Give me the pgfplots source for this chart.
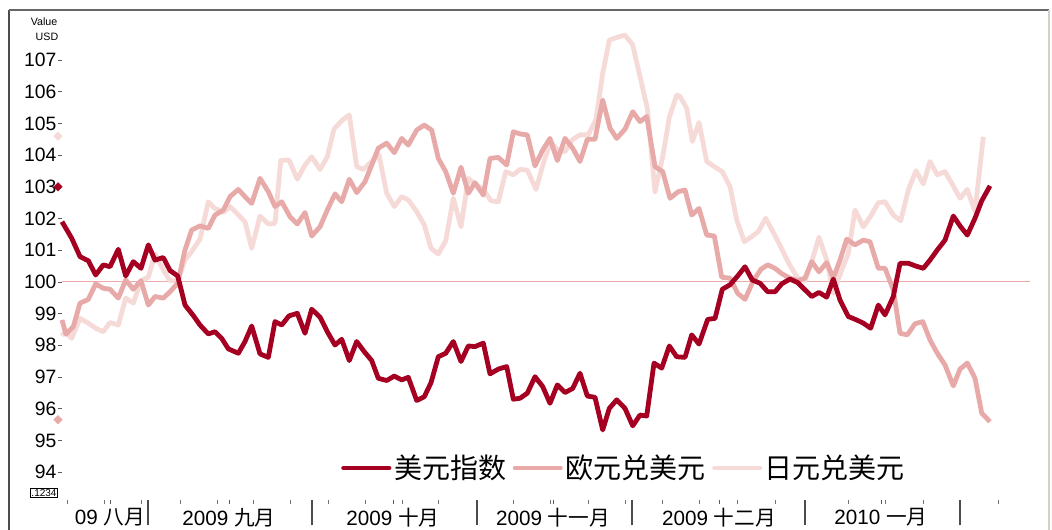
\documentclass[border=0pt]{standalone}
\usepackage{fontspec}
\setmainfont{Liberation Sans}
\newfontfamily\cjk{Noto Sans CJK SC}
\usepackage{pgfplots}
\pgfplotsset{compat=1.18}
\definecolor{usd}{RGB}{165,0,33}
\definecolor{eur}{RGB}{232,170,168}
\definecolor{jpy}{RGB}{246,218,216}
\definecolor{hline}{RGB}{238,170,170}
\definecolor{frameR}{RGB}{212,208,200}

\begin{document}
\begin{tikzpicture}
\begin{scope}[x=0.75pt,y=0.75pt]
\path[use as bounding box] (0,0) rectangle (1052,530);
\draw[line width=1.6pt, black!70] (9,0) -- (9,520);
\draw[line width=0.8pt, black!60] (9,520) -- (1049,520);
\draw[line width=1.6pt, frameR] (1049,520) -- (1049,0);
\node[font=\fontsize{8}{9}\selectfont] at (44,508) {Value};
\node[font=\fontsize{8}{9}\selectfont] at (47,493) {USD};
\node[draw, inner sep=0.8pt, font=\fontsize{7.5}{8}\selectfont] at (44,37) {.1234};
\end{scope}
\begin{axis}[
  at={(46.5pt,22.5pt)}, anchor=south west,
  scale only axis, width=726pt, height=352.5pt,
  xmin=62, xmax=1030, ymin=93.12, ymax=107.95,
  clip=false,
  axis lines*=left,
  axis line style={draw=none},
  tick align=outside,
  major tick length=3pt,
  tick style={black!65, line width=0.6pt},
  ytick={94,95,...,107},
  /pgf/number format/assume math mode=true,
  yticklabel style={font=\fontsize{14.5}{16}\selectfont, inner sep=1pt, anchor=east},
  xtick={110,229,393,553,719,881},
  xticklabels={09 {\cjk 八月}, 2009 {\cjk 九月}, 2009 {\cjk 十月}, 2009 {\cjk 十一月}, 2009 {\cjk 十二月}, 2010 {\cjk 一月}},
  xticklabel style={font=\fontsize{15.5}{17}\selectfont, anchor=north, inner sep=0pt, yshift=-3pt},
  minor xtick={148,312,477,632,805,960},
  minor tick length=19pt,
  minor tick style={black!70, line width=1.1pt},
  extra x ticks={67,104,141,180,217,253,290,328,365,402,438,513,550,588,625,662,699,737,775,848,885,923,998},
  extra x tick labels={},
  extra x tick style={tick style={black!55, line width=0.6pt}},
  legend style={at={(0.2882,0.068)}, anchor=west, draw=none, fill=none, inner sep=0pt,
    font=\cjk\fontsize{21}{24}\selectfont, legend columns=3,
    /tikz/every even column/.append style={column sep=3pt}},
  legend image code/.code={\draw[#1, line cap=round] (0pt,0pt) -- (34pt,0pt);},
  every axis plot/.append style={line width=3.6pt, line join=round},
]
\addlegendimage{usd}\addlegendentry{美元指数}
\addlegendimage{eur}\addlegendentry{欧元兑美元}
\addlegendimage{jpy}\addlegendentry{日元兑美元}

\addplot[color=hline, line width=0.8pt, forget plot] coordinates {(62,100) (1030,100)};

\addplot[jpy, forget plot] coordinates {
(62,98.3)(65,98.43)(71.7,98.22)(80,98.85)(88.3,98.7)(95.7,98.54)(103.3,98.43)(110,98.72)(118.3,98.64)(125.7,99.49)
(133.3,99.33)(141,100.04)(148.3,100.15)(155,100.88)(163.3,100.38)(170,100.04)(177.7,100.04)(185,100.69)(191.7,100.96)(200,101.35)
(208.3,102.53)(215,102.32)(223.3,102.19)(230,102.38)(236.7,102.17)(245,101.9)(251.7,101.06)(260,102.08)(268.3,101.83)(275,101.85)
(280.7,103.83)(289,103.85)(297.3,103.24)(305,103.69)(311.7,103.95)(320,103.55)(327.3,103.95)(334,104.82)(341.7,105.09)(349.3,105.27)
(356.7,103.64)(363.3,103.55)(371.7,103.8)(379,104.01)(386.7,102.8)(394.3,102.38)(401.7,102.69)(408.3,102.59)(416.7,102.22)(424.3,101.8)
(431,101.06)(438.3,100.88)(445.7,101.3)(453.3,102.64)(461,101.74)(468.3,103.27)(475,103.09)(483.3,102.92)(491,102.56)(498.3,102.53)
(505.7,103.48)(513.3,103.38)(520,103.55)(527.3,103.53)(536,102.92)(543.3,103.74)(550.7,104.43)(557.3,104.16)(565,104.11)(572.7,104.5)
(580,104.64)(588.3,104.64)(596,105.13)(602.7,106.58)(609.3,107.63)(617.3,107.72)(625,107.79)(632.7,107.48)(640,106.48)(647.3,105.48)
(655,102.85)(662.7,103.95)(669.3,105.19)(676.7,105.9)(680,105.85)(686.7,105.48)(692.3,104.43)(699,105.03)(706.7,103.8)(714.3,103.64)
(722.3,103.48)(730,103.01)(736.7,101.96)(744.3,101.27)(751.7,101.43)(758.3,101.59)(765.7,102.01)(773.3,101.56)(781,101.09)(789,100.57)
(797.7,100.12)(805,100.04)(811.7,100.64)(819,101.41)(826.7,100.69)(833.3,99.64)(841.7,100.38)(848.3,100.9)(855,102.27)(863.3,101.74)
(870.7,102.08)(878.3,102.5)(885,102.53)(893.3,102.11)(900.7,101.93)(908.3,102.9)(916,103.51)(923.3,103.09)(930,103.8)(937.3,103.38)
(945,103.48)(952.7,103.06)(960,102.64)(967.3,102.92)(975,102.22)(983.3,104.58)
};

\addplot[eur, forget plot] coordinates {
(62,98.8)(66,98.35)(73.3,98.59)(80,99.33)(88.3,99.45)(95.7,99.94)(103.3,99.8)(110,99.77)(118.3,99.49)(125.7,100.06)
(133.3,99.77)(141,100.04)(148.3,99.27)(155,99.54)(163.3,99.49)(170,99.69)(177.7,99.96)(185,101.01)(191.7,101.64)(200,101.77)
(208.3,101.69)(215,102.11)(223.3,102.27)(230,102.69)(238.3,102.92)(245,102.69)(251.7,102.48)(260,103.27)(268.3,102.85)(275,102.38)
(281.7,102.53)(290,102.06)(297.3,101.83)(305,102.19)(311.7,101.45)(320,101.74)(327.3,102.27)(335,102.78)(341.7,102.53)(349.3,103.24)
(356.7,102.82)(365,103.16)(371.7,103.69)(378.3,104.22)(386.7,104.38)(394.3,104.08)(401.7,104.53)(408.3,104.32)(416.7,104.79)(424.3,104.95)
(431.7,104.79)(438.3,103.9)(445.7,103.48)(453.3,102.8)(461,103.62)(468.3,102.8)(475,103.13)(483.3,102.74)(490,103.9)(498.3,103.93)
(506.7,103.69)(513.3,104.74)(520,104.67)(527.3,104.64)(535,103.66)(542.7,104.16)(550,104.53)(557.3,103.83)(565,104.53)(572.7,104.22)
(580,103.8)(587.3,104.5)(595,104.5)(602.7,105.74)(610,104.85)(616.7,104.53)(625,104.82)(632.7,105.37)(640,105.06)(646.7,105.22)
(655,103.64)(662.7,103.48)(670,102.64)(678.3,102.85)(685,102.9)(691.7,102.11)(699,102.32)(706.7,101.48)(714.3,101.45)(721.7,100.15)
(730,100.12)(737.7,99.64)(745,99.45)(753.3,100.04)(761,100.4)(767.7,100.54)(775,100.43)(782.3,100.25)(790,100.12)(797.7,100.04)
(805,100.12)(811.7,100.64)(819,100.32)(826.7,100.61)(833.3,100.12)(840,100.69)(846.7,101.35)(855,101.17)(863.3,101.32)(870,101.27)
(878.3,100.43)(885,100.43)(893.3,99.75)(900,98.38)(907.3,98.33)(915,98.68)(922.7,98.75)(930,98.17)(937.3,97.75)(945,97.38)
(953.3,96.72)(960,97.25)(967.3,97.44)(975,96.96)(981.7,95.86)(990,95.59)
};

\addplot[usd, forget plot] coordinates {
(62,101.9)(71.7,101.38)(80,100.8)(88.3,100.67)(95.7,100.22)(103.3,100.54)(110,100.48)(118.3,101.03)(125.7,100.19)(133.3,100.64)
(141,100.43)(148.3,101.17)(155,100.69)(163.3,100.77)(170,100.36)(177.7,100.19)(185,99.27)(193.3,98.94)(200,98.64)(208.3,98.36)
(215,98.43)(221.7,98.22)(228.3,97.89)(238.3,97.75)(245,98.12)(251.7,98.61)(260,97.73)(268.3,97.62)(275,98.75)(281.7,98.64)
(289,98.93)(297.3,99.01)(305,98.38)(311.7,99.14)(320,98.89)(327.3,98.43)(335,98.01)(341.7,98.19)(349.3,97.52)(356.7,98.12)
(365,97.77)(371.7,97.52)(378.3,96.96)(386.7,96.89)(394.3,97.03)(401.7,96.91)(408.3,96.99)(416.7,96.26)(424.3,96.38)(431,96.82)
(438.3,97.64)(445.7,97.75)(453.3,98.12)(461,97.49)(468.3,97.98)(475,97.96)(483.3,98.07)(490,97.1)(498.3,97.25)(506.7,97.33)
(513.3,96.3)(520,96.33)(527.3,96.49)(535,97.01)(542.7,96.7)(550,96.17)(557.3,96.75)(565,96.51)(572.7,96.64)(580,97.12)
(587.3,96.4)(595,96.36)(602.7,95.33)(609.3,96.01)(616.7,96.28)(625,96.01)(632.7,95.46)(640,95.8)(646.7,95.77)(654,97.44)
(661.7,97.28)(669.3,97.98)(676.7,97.64)(685,97.62)(691.7,98.33)(699,98.04)(707.7,98.82)(715,98.85)(722.3,99.77)(730,99.91)
(737.7,100.19)(745,100.48)(752.3,100.06)(760,99.96)(767.7,99.69)(775,99.69)(781.7,99.94)(790,100.09)(797.7,99.98)(805,99.75)
(811.7,99.54)(819,99.67)(826.7,99.52)(833.3,100.09)(840,99.43)(848.3,98.91)(856.7,98.8)(863.3,98.7)(870.7,98.54)(878.3,99.27)
(885,98.96)(893.3,99.54)(900,100.59)(908.3,100.59)(916,100.5)(923.3,100.43)(930,100.69)(937.3,101.01)(945,101.32)(953.3,102.08)
(960.7,101.74)(967.3,101.48)(975,102.01)(981.7,102.56)(990,103.03)
};

\addplot[jpy, only marks, mark=square*, mark size=2.3pt, mark options={line width=0.3pt, rotate=45}, forget plot] coordinates {(58,104.6)};
\addplot[usd, only marks, mark=square*, mark size=2.3pt, mark options={line width=0.3pt, rotate=45}, forget plot] coordinates {(58,103.0)};
\addplot[eur, only marks, mark=square*, mark size=2.3pt, mark options={line width=0.3pt, rotate=45}, forget plot] coordinates {(58,95.65)};
\end{axis}
\end{tikzpicture}
\end{document}
